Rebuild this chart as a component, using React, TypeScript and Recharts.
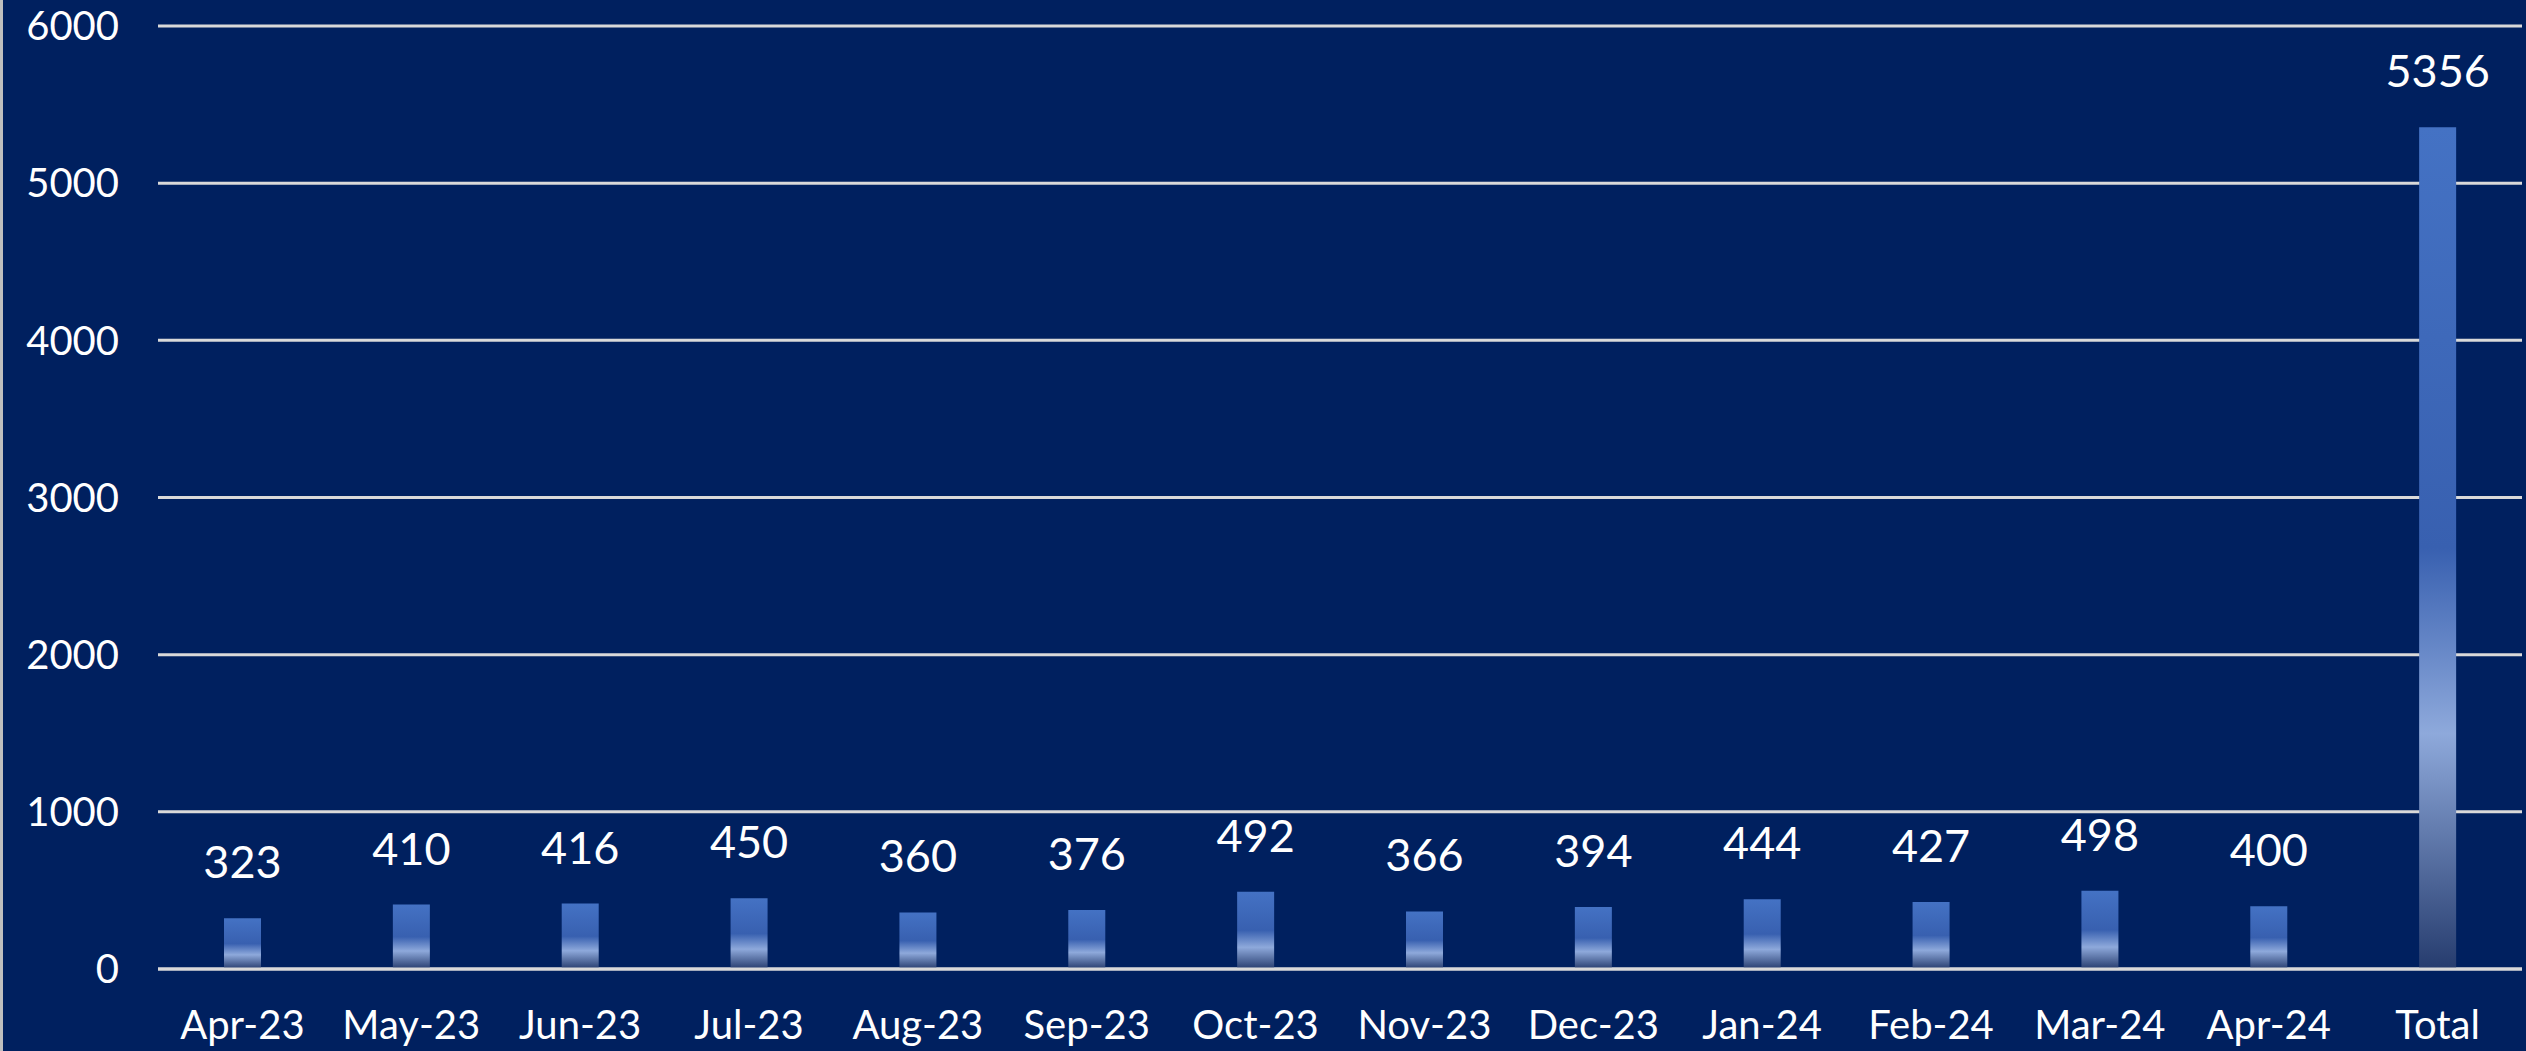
import { Bar, BarChart, CartesianGrid, LabelList, XAxis, YAxis } from "recharts";

const months = [
  "Apr-23", "May-23", "Jun-23", "Jul-23", "Aug-23", "Sep-23", "Oct-23",
  "Nov-23", "Dec-23", "Jan-24", "Feb-24", "Mar-24", "Apr-24", "Total",
];
const counts = [323, 410, 416, 450, 360, 376, 492, 366, 394, 444, 427, 498, 400, 5356];
const yTicks = [0, 1000, 2000, 3000, 4000, 5000, 6000];

const chartData = months.map((m, i) => ({ month: m, value: counts[i] }));

const FONT = "Lato, 'Open Sans', sans-serif";

export default function App() {
  return (
    <div
      style={{
        width: 2526,
        height: 1051,
        background: "#00205F",
        borderLeft: "3px solid #BFBFBF",
        boxSizing: "border-box",
        fontFamily: FONT,
      }}
    >
      <style>{"body{margin:0}"}</style>
      <BarChart
        width={2523}
        height={1051}
        data={chartData}
        margin={{ top: 26, right: 4, left: 0, bottom: 0 }}
      >
        <defs>
          <linearGradient id="barFill" x1="0" y1="0" x2="0" y2="1">
            <stop offset="0%" stopColor="#4472C4" />
            <stop offset="50%" stopColor="#3860B0" />
            <stop offset="72%" stopColor="#8EA9DB" />
            <stop offset="100%" stopColor="#263C6E" />
          </linearGradient>
        </defs>
        <CartesianGrid vertical={false} stroke="#D9D9D9" strokeWidth={3} />
        <XAxis
          dataKey="month"
          height={82}
          tickLine={false}
          tickSize={0}
          tickMargin={42}
          axisLine={{ stroke: "#D9D9D9", strokeWidth: 3 }}
          tick={{ fill: "#FFFFFF", fontSize: 40, fontFamily: FONT }}
          interval={0}
        />
        <YAxis
          width={155}
          domain={[0, 6000]}
          ticks={yTicks}
          tickLine={false}
          tickSize={0}
          tickMargin={39}
          axisLine={false}
          tick={{ fill: "#FFFFFF", fontSize: 40, fontFamily: FONT }}
        />
        <Bar dataKey="value" fill="url(#barFill)" barSize={37} isAnimationActive={false}>
          <LabelList
            dataKey="value"
            position="top"
            offset={40}
            fill="#FFFFFF"
            fontSize={45}
            fontFamily={FONT}
          />
        </Bar>
      </BarChart>
    </div>
  );
}
